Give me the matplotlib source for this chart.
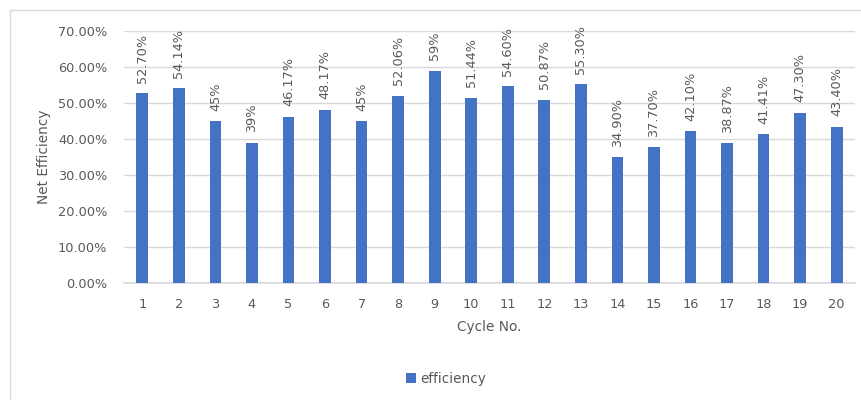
import matplotlib.pyplot as plt
from matplotlib.patches import Rectangle
from matplotlib.ticker import FuncFormatter

# Datos de eficiencia neta por ciclo
ciclos = list(range(1, 21))
eficiencia = [52.70, 54.14, 45, 39, 46.17, 48.17, 45, 52.06, 59, 51.44,
              54.60, 50.87, 55.30, 34.90, 37.70, 42.10, 38.87, 41.41, 47.30, 43.40]
etiquetas = ["52.70%", "54.14%", "45%", "39%", "46.17%", "48.17%", "45%", "52.06%",
             "59%", "51.44%", "54.60%", "50.87%", "55.30%", "34.90%", "37.70%",
             "42.10%", "38.87%", "41.41%", "47.30%", "43.40%"]

COLOR_BARRA = "#4472C4"
COLOR_TEXTO = "#595959"
COLOR_GRID = "#D9D9D9"

plt.rcParams['font.family'] = ['DejaVu Sans']

fig = plt.figure(figsize=(8.61, 4.0), dpi=100)

# Marco exterior del gráfico
fig.patches.append(Rectangle((10 / 861, -0.1), 1.2, 1.1 - 10 / 400,
                             transform=fig.transFigure, fill=False,
                             edgecolor=COLOR_GRID, linewidth=1.0))

ax = fig.add_axes([124 / 861, 1 - 283 / 400, (855 - 124) / 861, (283 - 31) / 400])

valores = [v / 100 for v in eficiencia]
ax.bar(ciclos, valores, width=0.32, color=COLOR_BARRA, zorder=3, label="efficiency")

for x, v, txt in zip(ciclos, valores, etiquetas):
    ax.annotate(txt, (x, v), xytext=(0, 7.5), textcoords='offset points',
                rotation=90, ha='center', va='bottom',
                fontsize=9.3, color=COLOR_TEXTO)

ax.set_xlim(0.5, 20.5)
ax.set_ylim(0, 0.70)
ax.set_yticks([i / 10 for i in range(8)])
ax.yaxis.set_major_formatter(FuncFormatter(lambda y, _: f"{y * 100:.2f}%"))
ax.set_xticks(ciclos)

ax.grid(axis='y', color=COLOR_GRID, linewidth=1.0, zorder=0)
for lado in ['top', 'right', 'left']:
    ax.spines[lado].set_visible(False)
ax.spines['bottom'].set_color(COLOR_GRID)
ax.spines['bottom'].set_linewidth(1.2)
ax.tick_params(axis='both', length=0, labelsize=9.3, labelcolor=COLOR_TEXTO)
ax.tick_params(axis='x', pad=11)
ax.tick_params(axis='y', pad=12)

ax.set_xlabel("Cycle No.", fontsize=9.8, color=COLOR_TEXTO, labelpad=6)
ax.set_ylabel("Net Efficiency", fontsize=9.8, color=COLOR_TEXTO, labelpad=5)

fig.legend(loc='center', bbox_to_anchor=(446 / 861, 1 - 379 / 400), frameon=False,
           fontsize=9.8, labelcolor=COLOR_TEXTO, handlelength=0.7, handleheight=0.7,
           handletextpad=0.3)

fig.savefig("out.png", dpi=100)
plt.close(fig)
